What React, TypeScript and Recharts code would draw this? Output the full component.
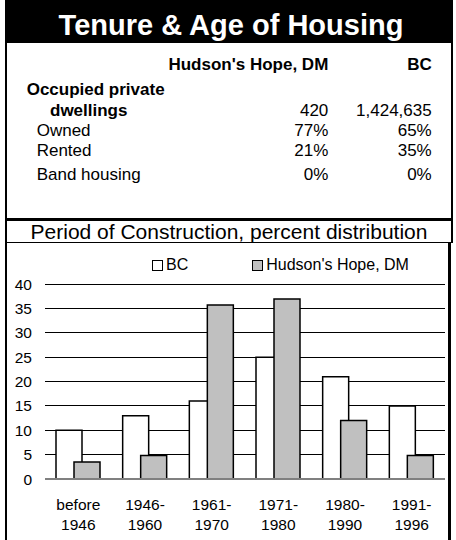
import React from 'react';
import { BarChart, Bar, XAxis, YAxis, CartesianGrid, Legend } from 'recharts';

const FONT = '"Liberation Sans", Arial, Helvetica, sans-serif';

// table values
const areaNames = ["Hudson's Hope, DM", 'BC'];
const dwellingCounts = ['420', '1,424,635'];
const tenureLabels = ['Owned', 'Rented', 'Band housing'];
const hudsonTenure = ['77%', '21%', '0%'];
const bcTenure = ['65%', '35%', '0%'];

// chart values
const periods = ['before\n1946', '1946-\n1960', '1961-\n1970', '1971-\n1980', '1980-\n1990', '1991-\n1996'];
const bcShare = [10, 13, 16, 25, 21, 15];
const hudsonShare = [3.5, 4.8, 35.7, 36.9, 12, 4.8];
const yTicks = [0, 5, 10, 15, 20, 25, 30, 35, 40];

const chartData = periods.map((period, i) => ({
  period,
  bc: bcShare[i],
  hudson: hudsonShare[i],
}));

type TxtProps = {
  x: number;
  top: number;
  size: number;
  bold?: boolean;
  align?: 'left' | 'right' | 'center';
  color?: string;
  children: React.ReactNode;
};

const Txt = ({ x, top, size, bold, align = 'left', color = '#000', children }: TxtProps) => {
  const style: React.CSSProperties = {
    position: 'absolute',
    top,
    fontSize: size,
    lineHeight: 1,
    fontWeight: bold ? 'bold' : 'normal',
    fontFamily: FONT,
    color,
    whiteSpace: 'nowrap',
  };
  if (align === 'left') style.left = x;
  else if (align === 'right') style.right = 456 - x;
  else {
    style.left = x;
    style.transform = 'translateX(-50%)';
  }
  return <div style={style}>{children}</div>;
};

const Rule = ({ left, top, width, height }: { left: number; top: number; width: number; height: number }) => (
  <div style={{ position: 'absolute', left, top, width, height, background: '#000' }} />
);

const PeriodTick = ({ x, y, payload }: any) => {
  const lines = String(payload.value).split('\n');
  return (
    <text x={x} y={y} textAnchor="middle" fontSize={15.5} fontFamily={FONT} fill="#000">
      {lines.map((line, i) => (
        <tspan key={i} x={x} dy={i === 0 ? 29 : 20}>
          {line}
        </tspan>
      ))}
    </text>
  );
};

const LegendContent = ({ payload }: any) => (
  <div style={{ display: 'flex', paddingLeft: 152, height: 18, alignItems: 'center', fontFamily: FONT }}>
    {(payload || []).map((item: any, i: number) => (
      <div key={item.value} style={{ display: 'flex', alignItems: 'center', marginRight: i === 0 ? 64 : 0 }}>
        <span
          style={{
            display: 'inline-block',
            width: 11,
            height: 11,
            boxSizing: 'border-box',
            border: '1px solid #000',
            background: item.payload?.fill ?? item.color,
          }}
        />
        <span style={{ fontSize: 16, marginLeft: 3, color: '#000' }}>{item.value}</span>
      </div>
    ))}
  </div>
);

export default function App() {
  const rowTops = [122, 142, 165.5];
  return (
    <div style={{ position: 'absolute', left: 0, top: 0, width: 456, height: 540, background: '#fff', overflow: 'hidden' }}>
      {/* frame */}
      <Rule left={5} top={0} width={448} height={43} />
      <Rule left={5} top={0} width={2} height={243} />
      <Rule left={450.5} top={0} width={2.5} height={243} />
      <Rule left={5} top={218.3} width={448} height={2.4} />
      <Rule left={5} top={241.7} width={446} height={1.5} />
      <Rule left={5} top={243} width={1.5} height={297} />
      <Rule left={447.5} top={243} width={3.5} height={297} />

      <Txt x={231} top={10.5} size={29} bold align="center" color="#fff">
        Tenure &amp; Age of Housing
      </Txt>

      <Txt x={328.3} top={56.3} size={17} bold align="right">{areaNames[0]}</Txt>
      <Txt x={431.7} top={56.3} size={17} bold align="right">{areaNames[1]}</Txt>

      <Txt x={26.7} top={81} size={17} bold>Occupied private</Txt>
      <Txt x={50} top={102} size={17} bold>dwellings</Txt>
      <Txt x={328.3} top={102} size={17} align="right">{dwellingCounts[0]}</Txt>
      <Txt x={431.7} top={102} size={17} align="right">{dwellingCounts[1]}</Txt>

      {tenureLabels.map((label, i) => (
        <React.Fragment key={label}>
          <Txt x={36.7} top={rowTops[i]} size={17}>{label}</Txt>
          <Txt x={328.3} top={rowTops[i]} size={17} align="right">{hudsonTenure[i]}</Txt>
          <Txt x={431.7} top={rowTops[i]} size={17} align="right">{bcTenure[i]}</Txt>
        </React.Fragment>
      ))}

      <Txt x={229} top={221} size={21} align="center">
        Period of Construction, percent distribution
      </Txt>

      <div style={{ position: 'absolute', left: 0, top: 243 }}>
        <BarChart
          width={456}
          height={297}
          data={chartData}
          margin={{ top: 41, right: 11, bottom: 6, left: 0 }}
          barSize={26}
          barGap={-8}
        >
          <CartesianGrid vertical={false} stroke="#000" strokeWidth={1} shapeRendering="crispEdges" />
          <XAxis
            dataKey="period"
            height={55}
            axisLine={{ stroke: '#808080', strokeWidth: 2 }}
            tickLine={false}
            tickSize={0}
            tick={<PeriodTick />}
            interval={0}
          />
          <YAxis
            width={45}
            domain={[0, 40]}
            ticks={yTicks}
            axisLine={false}
            tickLine={false}
            tickSize={0}
            tickMargin={13}
            tick={{ fontSize: 15.5, fill: '#000', fontFamily: FONT }}
          />
          <Legend
            layout="horizontal"
            verticalAlign="middle"
            align="center"
            wrapperStyle={{ top: 13, left: 0, width: 456 }}
            content={<LegendContent />}
          />
          <Bar dataKey="bc" name="BC" fill="#fff" stroke="#000" strokeWidth={1.5} isAnimationActive={false} />
          <Bar dataKey="hudson" name="Hudson's Hope, DM" fill="#c0c0c0" stroke="#000" strokeWidth={1.5} isAnimationActive={false} />
        </BarChart>
      </div>
    </div>
  );
}
